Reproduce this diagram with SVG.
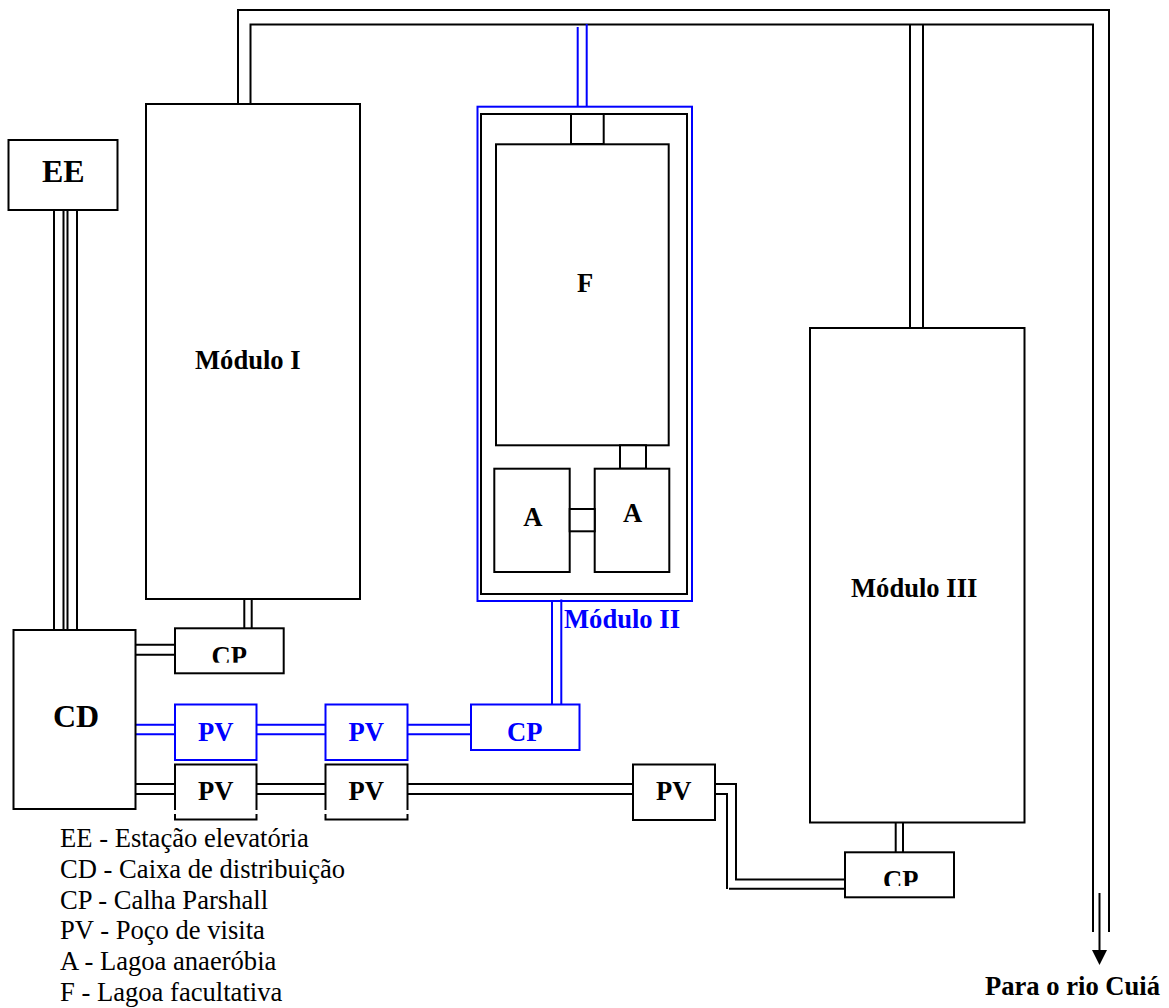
<svg xmlns="http://www.w3.org/2000/svg" width="1169" height="1008" viewBox="0 0 1169 1008">
<style>
.b{fill:#fff;stroke:#000;stroke-width:2}
.u{fill:#fff;stroke:#00f;stroke-width:2}
.n{fill:none;stroke:#000;stroke-width:2}
.nb{fill:none;stroke:#00f;stroke-width:2}
.w{fill:#fff;stroke:none}
text{font-family:"Liberation Serif","Times New Roman",serif;fill:#000}
.t{font-weight:bold;font-size:26.6px}
.tb{font-weight:bold;font-size:26.6px;fill:#00f}
.big{font-weight:bold;font-size:32px}
.leg{font-size:26.6px}
</style>
<rect width="1169" height="1008" fill="#fff"/>
<g id="connectors">
<path class="n" d="M238 104V10H1109V932"/>
<path class="n" d="M250.500 104V24.500H1093V932"/>
<path class="n" d="M910 25V328M923 25V328"/>
<path class="nb" d="M577.700 27V107M586.700 24V107"/>
<path class="n" d="M54 210V630M63.500 210V630M67.500 210V630M77 210V630"/>
<path class="n" d="M244.300 599V628M251.700 599V628"/>
<path class="n" d="M135 644.700H175M135 654.700H175"/>
<path class="nb" d="M135 724.700H175M135 734.300H175M256 724.700H326M256 734.300H326M407 724.700H471M407 734.300H471"/>
<path class="nb" d="M552 601V704M561.300 599.500V704"/>
<path class="n" d="M135 784H175M135 794H175M256 784H326M256 794H326M407 784H633M407 794H633"/>
<path class="n" d="M715 784H736V879.500H845M715 794H727V889"/>
<path class="n" d="M729 888.700H845"/>
<path class="n" d="M895.700 822V852M903 822V852"/>
<path class="n" d="M1099.500 893V951"/>
<polygon points="1092,950 1107,950 1099.500,965" fill="#000"/>
</g>
<g id="node-ee"><rect class="b" x="8.500" y="140" width="109" height="70"/><text class="big" x="42" y="181.700">EE</text></g>
<g id="node-modulo-1"><rect class="b" x="146" y="104" width="214" height="495"/><text class="t" x="195" y="369">Módulo I</text></g>
<g id="node-modulo-2">
<rect x="477.500" y="106.700" width="214.500" height="494.300" fill="none" stroke="#00f" stroke-width="2"/>
<rect class="n" x="481" y="114" width="206" height="480"/>
<rect class="b" x="571" y="114" width="32.700" height="30"/>
<rect class="b" x="496" y="144.300" width="172.700" height="301"/>
<rect class="b" x="620" y="445.300" width="26" height="23.400"/>
<rect class="b" x="494.300" y="468.700" width="75.400" height="103.300"/>
<rect class="b" x="594.700" y="468.700" width="74.600" height="103.300"/>
<rect class="b" x="569.700" y="509" width="25" height="22.300"/>
<text class="t" x="577" y="292">F</text>
<text class="t" x="523.300" y="526">A</text>
<text class="t" x="623" y="521.700">A</text>
<text class="tb" x="564" y="628">Módulo II</text>
</g>
<g id="node-modulo-3"><rect class="b" x="810" y="328" width="214.500" height="494.500"/><text class="t" x="851" y="597">Módulo III</text></g>
<g id="node-cd"><rect class="b" x="13.500" y="630" width="122" height="179"/><text class="big" x="53" y="726.700">CD</text></g>
<g id="node-cp-1"><rect class="b" x="175" y="628.300" width="108.700" height="45"/><text class="t" x="211.500" y="665">CP</text><rect class="w" x="205" y="662.700" width="50" height="9"/></g>
<g id="node-pv-b1"><rect class="u" x="175" y="704.500" width="81.500" height="55.500"/><text class="tb" x="198" y="740.700">PV</text></g>
<g id="node-pv-b2"><rect class="u" x="325.500" y="704.500" width="82" height="55.500"/><text class="tb" x="348.500" y="740.700">PV</text></g>
<g id="node-cp-b"><rect class="u" x="471" y="704.500" width="108.500" height="45.500"/><text class="tb" x="507" y="740.700">CP</text></g>
<g id="node-pv-1"><rect class="b" x="175" y="764.500" width="81.500" height="55"/><text class="t" x="198" y="800">PV</text><rect class="w" x="173" y="810" width="5" height="4"/><rect class="w" x="254" y="810" width="5" height="4"/></g>
<g id="node-pv-2"><rect class="b" x="325.500" y="764.500" width="82" height="55"/><text class="t" x="348.500" y="800">PV</text><rect class="w" x="323" y="810" width="5" height="4"/><rect class="w" x="405" y="810" width="5" height="4"/></g>
<g id="node-pv-3"><rect class="b" x="633" y="764.500" width="82" height="55.500"/><text class="t" x="656" y="800">PV</text></g>
<g id="node-cp-3"><rect class="b" x="845" y="852.300" width="109" height="45"/><text class="t" x="883" y="888.500">CP</text><rect class="w" x="877" y="886" width="50" height="9"/></g>
<g id="legend">
<text class="leg" x="60" y="846.700">EE - Estação elevatória</text>
<text class="leg" x="60" y="878.300">CD - Caixa de distribuição</text>
<text class="leg" x="60" y="909">CP - Calha Parshall</text>
<text class="leg" x="60" y="939.300">PV - Poço de visita</text>
<text class="leg" x="60" y="970">A - Lagoa anaeróbia</text>
<text class="leg" x="60" y="1000.700">F - Lagoa facultativa</text>
</g>
<text class="t" x="985" y="995">Para o rio Cuiá</text>
</svg>
